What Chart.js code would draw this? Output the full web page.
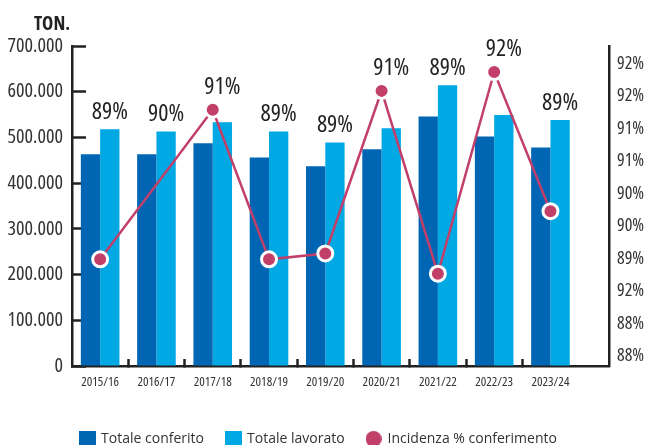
<!DOCTYPE html>
<html>
<head>
<meta charset="utf-8">
<script src="https://cdn.jsdelivr.net/npm/chart.js@4/dist/chart.umd.min.js"></script>
<style>
  html, body { margin: 0; padding: 0; background: #fff; overflow: hidden; }
  canvas { display: block; }
</style>
</head>
<body>
<canvas id="chart" width="654" height="456"></canvas>
<script>
"use strict";

const seasons = ["2015/16", "2016/17", "2017/18", "2018/19", "2019/20", "2020/21", "2021/22", "2022/23", "2023/24"];
const conferito = [463000, 463000, 487000, 456000, 437000, 474000, 546000, 502000, 478000];
const lavorato = [518000, 513000, 533000, 513000, 489000, 520000, 614000, 549000, 538000];
const incidenza = [89.49, null, 91.79, 89.49, 89.58, 92.08, 89.27, 92.37, 90.23];
const incidenzaLabels = ["89%", "90%", "91%", "89%", "89%", "91%", "89%", "92%", "89%"];
const rightTickLabels = ["88%", "88%", "92%", "89%", "90%", "90%", "91%", "91%", "92%", "92%"];

const DARK = "#0066b3";
const LIGHT = "#00a9e4";
const RED = "#c13f69";
const INK = "#222";
// Open Sans has a width axis: "condensed" in the weight slot gives the narrow face
const COND = "'Open Sans', sans-serif";

function swatch(shape, color, size) {
  const c = document.createElement("canvas");
  c.width = c.height = size;
  const g = c.getContext("2d");
  g.fillStyle = color;
  if (shape === "circle") {
    g.beginPath();
    g.arc(size / 2, size / 2, size / 2, 0, Math.PI * 2);
    g.fill();
  } else {
    g.fillRect(0, 0, size, size);
  }
  return c;
}

function thousands(v) {
  return String(v).replace(/\B(?=(\d{3})+(?!\d))/g, ".");
}

// percent labels above each pair + the "TON." unit
const pctLabelPlugin = {
  id: "pctLabels",
  afterLayout(chart) {
    // nudge the centred legend to where the original sits
    chart.legend.left -= 7.5;
    chart.legend.right -= 7.5;
  },
  afterDatasetsDraw(chart) {
    const ctx = chart.ctx;
    const bars = chart.getDatasetMeta(1).data;
    const pts = chart.getDatasetMeta(2).data;
    ctx.save();
    ctx.fillStyle = INK;
    ctx.textAlign = "center";
    ctx.textBaseline = "middle";
    ctx.font = "condensed 24px " + COND;
    incidenzaLabels.forEach((txt, i) => {
      const b = bars[i];
      let y = b.y - 17;
      if (incidenza[i] !== null) y = Math.min(y, pts[i].y - 23);
      ctx.fillText(txt, b.x, y);
    });
    ctx.font = "bold condensed 19px " + COND;
    ctx.fillText("TON.", chart.chartArea.left - 20, chart.chartArea.top - 21);
    ctx.restore();
  },
};

new Chart(document.getElementById("chart"), {
  type: "bar",
  data: {
    labels: seasons,
    datasets: [
      {
        label: "Totale conferito",
        data: conferito,
        backgroundColor: DARK,
        yAxisID: "y",
        order: 1,
      },
      {
        label: "Totale lavorato",
        data: lavorato,
        backgroundColor: LIGHT,
        yAxisID: "y",
        order: 1,
      },
      {
        type: "line",
        label: "Incidenza % conferimento",
        data: incidenza,
        yAxisID: "y2",
        borderColor: RED,
        borderWidth: 2.5,
        tension: 0,
        spanGaps: true,
        pointRadius: 7.5,
        pointBackgroundColor: RED,
        pointBorderColor: "#fff",
        pointBorderWidth: 3,
        order: 0,
      },
    ],
  },
  options: {
    responsive: false,
    animation: false,
    layout: { padding: { left: 6, right: 8, top: 46, bottom: 0 } },
    datasets: {
      bar: { categoryPercentage: 0.686, barPercentage: 1.0 },
    },
    plugins: {
      tooltip: { enabled: false },
      legend: {
        position: "bottom",
        labels: {
          usePointStyle: true,
          padding: 22,
          color: "#333",
          font: { family: "'Open Sans', sans-serif", size: 14 },
          generateLabels(chart) {
            const shapes = [swatch("rect", DARK, 17), swatch("rect", LIGHT, 17), swatch("circle", RED, 16)];
            return chart.data.datasets.map((ds, i) => ({
              text: ds.label,
              datasetIndex: i,
              pointStyle: shapes[i],
              fillStyle: ds.backgroundColor,
              strokeStyle: "transparent",
              lineWidth: 0,
              fontColor: "#333",
              hidden: false,
            }));
          },
        },
      },
    },
    scales: {
      x: {
        z: 1,
        afterBuildTicks(scale) {
          scale._valueRange += 0.54;
        },
        afterFit(scale) {
          scale.height = 44;
        },
        grid: {
          drawOnChartArea: false,
          offset: true,
          tickLength: -7,
          tickWidth: 2.5,
          tickColor: (ctx) => (ctx.index === undefined || ctx.index === 0 ? "transparent" : INK),
        },
        border: { color: INK, width: 2.5 },
        ticks: {
          color: "#333",
          padding: 15,
          maxRotation: 0,
          font: { family: COND, weight: "condensed", size: 13 },
        },
      },
      y: {
        position: "left",
        min: 0,
        max: 700000,
        afterFit(scale) {
          scale.width = 66;
        },
        grid: {
          drawOnChartArea: false,
          tickLength: -14,
          tickWidth: 2.5,
          tickColor: INK,
        },
        border: { color: INK, width: 2.5 },
        ticks: {
          stepSize: 100000,
          color: "#333",
          padding: 23,
          font: { family: COND, weight: "condensed", size: 20 },
          callback: (v) => thousands(v),
        },
      },
      y2: {
        position: "right",
        min: 87.85,
        max: 92.77,
        afterBuildTicks(scale) {
          scale.ticks = rightTickLabels.map((t, i) => ({ value: 88 + i * 0.5 }));
        },
        afterFit(scale) {
          scale.width = 37;
        },
        grid: { drawOnChartArea: false, drawTicks: false },
        border: { color: INK, width: 2.5 },
        ticks: {
          color: "#333",
          padding: 8,
          font: { family: COND, weight: "condensed", size: 18 },
          callback: (v, i) => rightTickLabels[i],
        },
      },
    },
  },
  plugins: [pctLabelPlugin],
});
</script>
</body>
</html>
